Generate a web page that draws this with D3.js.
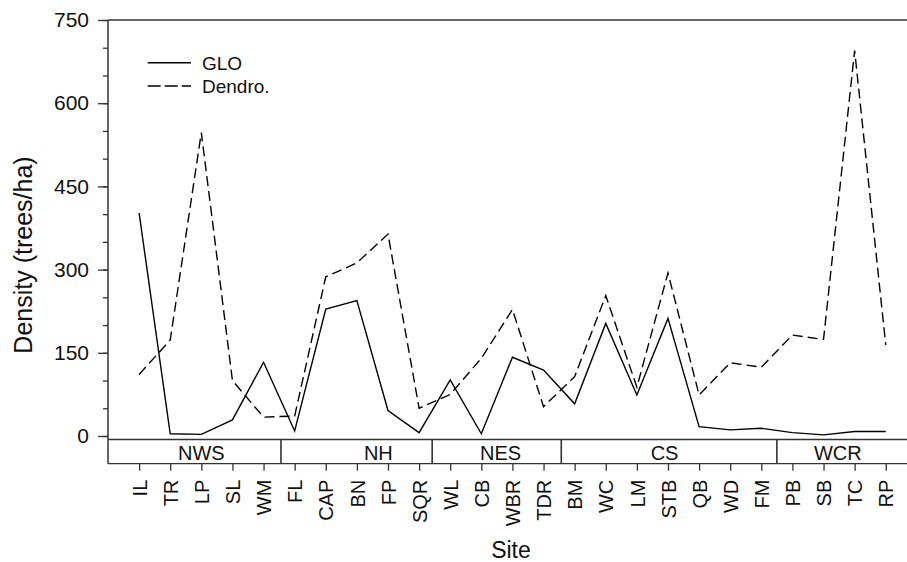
<!DOCTYPE html>
<html>
<head>
<meta charset="utf-8">
<script src="https://cdn.jsdelivr.net/npm/d3@7"></script>
<style>
  body { margin: 0; background: #fff; }
  svg text { font-family: "Liberation Sans", Arial, sans-serif; fill: #111; }
</style>
</head>
<body>
<svg id="chart" width="907" height="562"></svg>
<script>
// site codes along the x axis
const sites = ["IL","TR","LP","SL","WM","FL","CAP","BN","FP","SQR","WL","CB","WBR","TDR",
               "BM","WC","LM","STB","QB","WD","FM","PB","SB","TC","RP"];
// density, trees/ha
const glo    = [402,4,3,29,133,9,229,244,46,6,101,4,142,119,58,203,74,212,17,11,14,6,2,8,8];
const dendro = [111,173,547,100,34,36,287,312,364,50,75,140,228,53,107,253,88,294,74,132,124,182,174,695,164];
// regions and where they split (in site index units)
const groups = ["NWS","NH","NES","CS","WCR"];
const groupBreaks = [4.56, 9.42, 13.57, 20.5];
const yTicks = [0,150,300,450,600,750];

// label spots for the region names (site index units)
const groupLabelAt = [2.0, 7.69, 11.62, 16.89, 22.46];

const svg = d3.select("#chart");
const axisColor = "#333";

let x = d3.scaleLinear().domain([-1, 25]).range([108, 108 + 26 * 31.11]);
let y = d3.scaleLinear().domain([0, 750]).range([436, 20]);
const bandTop = 439.5, bandBot = 463.7;

// y axis, minor ticks first
svg.append("g").attr("transform", "translate(108,0)")
  .call(d3.axisLeft(y).tickValues(d3.range(0, 751, 50)).tickSize(5).tickFormat(""))
  .call(g => g.select(".domain").remove())
  .selectAll("line").attr("stroke", axisColor).attr("stroke-width", 1.3);

let ya = svg.append("g").attr("transform", "translate(108,0)")
  .call(d3.axisLeft(y).tickValues(yTicks).tickSize(10).tickPadding(9));
ya.select(".domain").remove();
ya.selectAll("line").attr("stroke", axisColor).attr("stroke-width", 1.3);
ya.selectAll("text").style("font-size", "21px").attr("fill", "#111");

// frame: left axis, top line, band
svg.append("line").attr("x1", 108).attr("x2", 108).attr("y1", 20).attr("y2", bandBot)
  .attr("stroke", axisColor).attr("stroke-width", 1.5);
svg.append("line").attr("x1", 108).attr("x2", x(25)).attr("y1", 20).attr("y2", 20)
  .attr("stroke", axisColor).attr("stroke-width", 1.5);
[bandTop, bandBot].forEach(yy => {
  svg.append("line").attr("x1", 108).attr("x2", x(25)).attr("y1", yy).attr("y2", yy)
    .attr("stroke", axisColor).attr("stroke-width", 1.3);
});
svg.selectAll(".brk").data(groupBreaks).enter().append("line")
  .attr("x1", d => x(d)).attr("x2", d => x(d))
  .attr("y1", bandTop).attr("y2", bandBot)
  .attr("stroke", axisColor).attr("stroke-width", 1.6);
svg.selectAll(".grp").data(groups).enter().append("text")
  .attr("x", (d, i) => x(groupLabelAt[i]))
  .attr("y", 460)
  .attr("text-anchor", "middle")
  .style("font-size", "20px")
  .text(d => d);

// x axis under the band
let xa = svg.append("g").attr("transform", "translate(0," + bandBot + ")")
  .call(d3.axisBottom(x).tickValues(d3.range(sites.length)).tickSize(7).tickPadding(9)
    .tickFormat(i => sites[i]));
xa.select(".domain").remove();
xa.selectAll("line").attr("stroke", axisColor).attr("stroke-width", 1.3);
xa.selectAll("text")
  .style("font-size", "20px").attr("fill", "#111")
  .attr("text-anchor", "end")
  .attr("transform", "rotate(-90)")
  .attr("x", -16).attr("y", 0).attr("dy", "0.36em");

// data lines
const line = d3.line().x((d, i) => x(i)).y(d => y(d));
svg.append("path").attr("d", line(glo))
  .attr("fill", "none").attr("stroke", "#000").attr("stroke-width", 1.4);
svg.append("path").attr("d", line(dendro))
  .attr("fill", "none").attr("stroke", "#000").attr("stroke-width", 1.4)
  .attr("stroke-dasharray", "10,5");

// legend
const leg = [{name: "GLO", dash: null, y: 62.7}, {name: "Dendro.", dash: "13,4", y: 86}];
leg.forEach(l => {
  svg.append("line").attr("x1", 147.7).attr("x2", 191).attr("y1", l.y).attr("y2", l.y)
    .attr("stroke", "#000").attr("stroke-width", 1.4)
    .attr("stroke-dasharray", l.dash);
  svg.append("text").attr("x", 202).attr("y", l.y).attr("dy", "0.36em")
    .style("font-size", "19px").text(l.name);
});

// axis titles
svg.append("text")
  .attr("transform", "translate(32,255) rotate(-90)")
  .attr("text-anchor", "middle")
  .style("font-size", "25px")
  .text("Density (trees/ha)");
svg.append("text")
  .attr("x", 511).attr("y", 558)
  .attr("text-anchor", "middle")
  .style("font-size", "23px")
  .text("Site");
</script>
</body>
</html>
